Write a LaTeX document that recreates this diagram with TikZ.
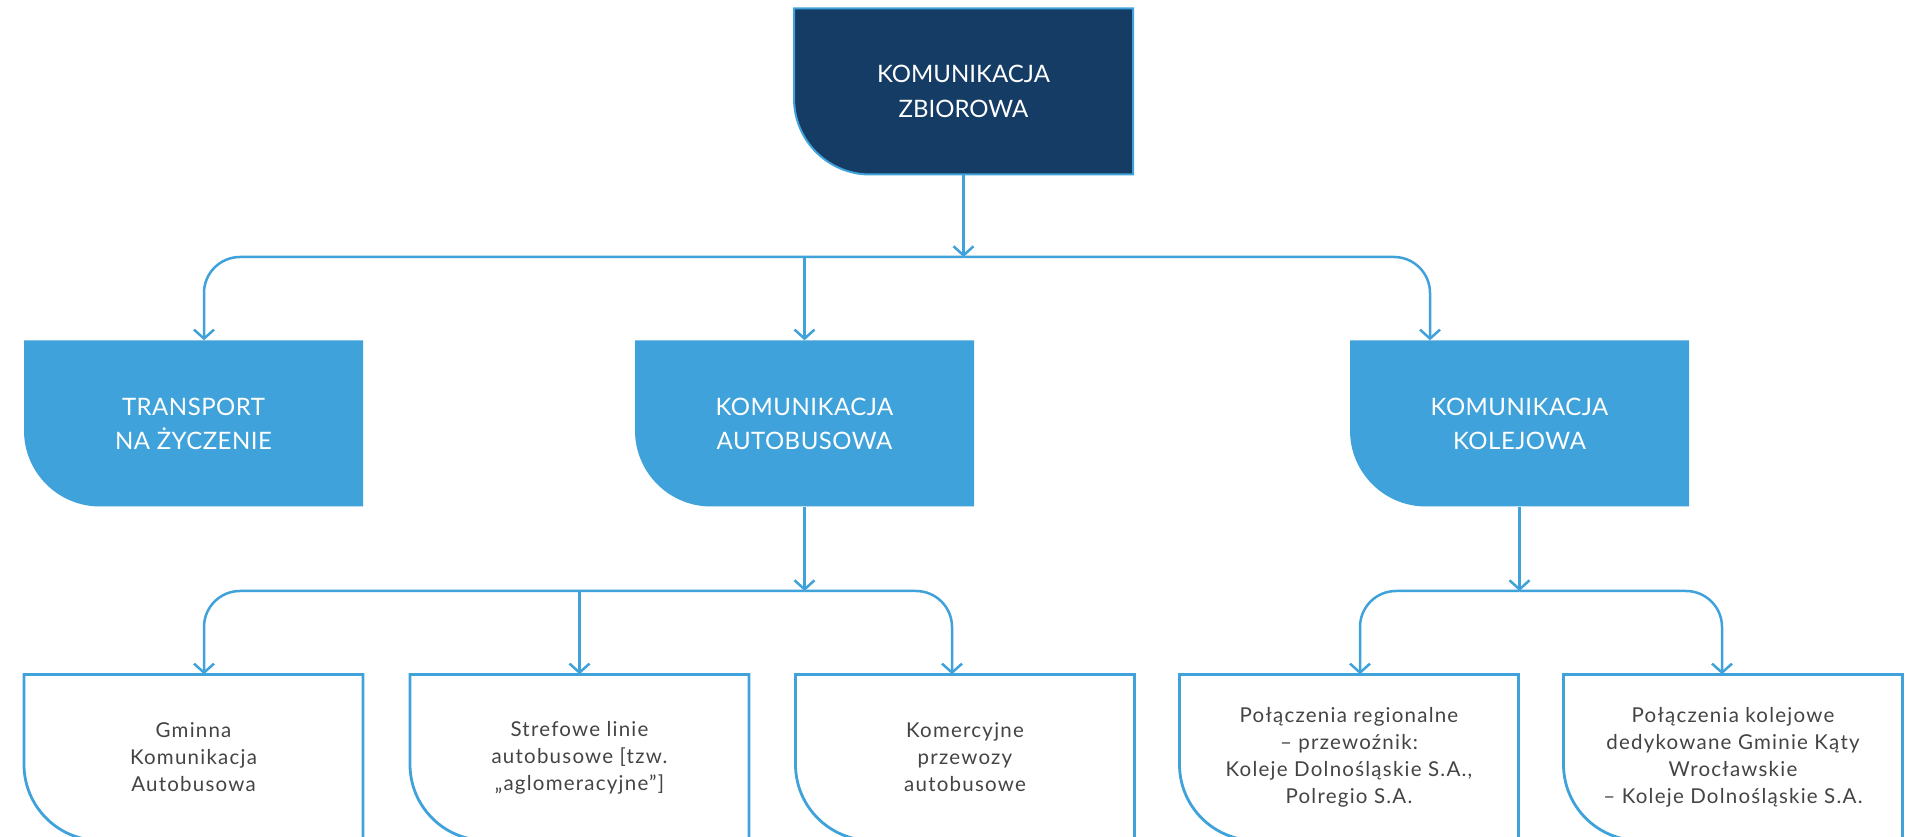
\documentclass[tikz,border=0pt]{standalone}
\usepackage{fontspec}
\setmainfont{Lato}
\usetikzlibrary{arrows.meta}
\definecolor{navy}{HTML}{143C64}
\definecolor{sky}{HTML}{40A2DA}
\definecolor{txt}{HTML}{444444}
\tikzset{
  box/.style={minimum width=339pt, minimum height=166pt, inner sep=0pt, align=center},
  topbox/.style={box, text=white, font=\fontsize{24}{35}\selectfont},
  midbox/.style={box, text=white, font=\fontsize{24}{34}\selectfont\addfontfeature{LetterSpace=2}},
  lowbox/.style={box, text=txt, font=\fontsize{20.5}{27}\selectfont\addfontfeature{LetterSpace=6}},
  topshape/.style={fill=navy, draw=sky, line width=2pt},
  midshape/.style={fill=sky},
  lowshape/.style={fill=white, draw=sky, line width=2.8pt},
  conn/.style={draw=sky, line width=2.5pt, rounded corners=36pt},
  arr/.style={conn, -{Straight Barb[length=9pt,width=20pt,line width=2.5pt]}},
}
% #1 name, #2 x, #3 y, #4 shape style, #5 node style, #6 text
\newcommand\rbox[6]{%
  \path[#4] (#2-169.5,#3+83) -- (#2+169.5,#3+83) -- (#2+169.5,#3-83)
    -- (#2-93.5,#3-83) arc[start angle=270,end angle=180,radius=76] -- cycle;
  \node[#5] (#1) at (#2,#3) {#6};}
\begin{document}
\begin{tikzpicture}[x=1pt,y=1pt]
\clip (0,0) rectangle (1919,837);
\fill[white] (0,0) rectangle (1919,837);
\rbox{top}{963.5}{745.5}{topshape}{topbox}{KOMUNIKACJA\\ZBIOROWA}
\rbox{b1}{193.5}{413.5}{midshape}{midbox}{TRANSPORT\\NA ŻYCZENIE}
\rbox{b2}{804.5}{413.5}{midshape}{midbox}{KOMUNIKACJA\\AUTOBUSOWA}
\rbox{b3}{1519.5}{413.5}{midshape}{midbox}{KOMUNIKACJA\\KOLEJOWA}
\rbox{c1}{193.5}{79.5}{lowshape}{lowbox}{Gminna\\Komunikacja\\Autobusowa}
\rbox{c2}{579.5}{79.5}{lowshape}{lowbox}{Strefowe linie\\autobusowe [tzw.\\„aglomeracyjne”]}
\rbox{c3}{965}{79.5}{lowshape}{lowbox}{Komercyjne\\przewozy\\autobusowe}
\rbox{d1}{1349}{79.5}{lowshape}{lowbox}{Połączenia regionalne\\– przewoźnik:\\Koleje Dolnośląskie S.A.,\\Polregio S.A.}
\rbox{d2}{1733}{79.5}{lowshape}{lowbox}{Połączenia kolejowe\\dedykowane Gminie Kąty\\Wrocławskie\\– Koleje Dolnośląskie S.A.}
% connectors
\coordinate (h1) at (top.south |- 0,580);
\coordinate (h2) at (b2.south |- 0,246);
\coordinate (h3) at (b3.south |- 0,246);
\draw[arr] (top.south) -- (h1);
\draw[arr] (h1) -| ([xshift=10.5pt]b1.north);
\draw[arr] (h1) -| ([xshift=-89.5pt]b3.north);
\draw[arr] (h1 -| b2.north) -- (b2.north);
\draw[arr] (b2.south) -- (h2);
\draw[arr] (h2) -| ([xshift=10.5pt]c1.north);
\draw[arr] (h2) -| ([xshift=-13pt]c3.north);
\draw[arr] (h2 -| c2.north) -- (c2.north);
\draw[arr] (b3.south) -- (h3);
\draw[arr] (h3) -| ([xshift=11pt]d1.north);
\draw[arr] (h3) -| ([xshift=-11pt]d2.north);
\end{tikzpicture}
\end{document}
